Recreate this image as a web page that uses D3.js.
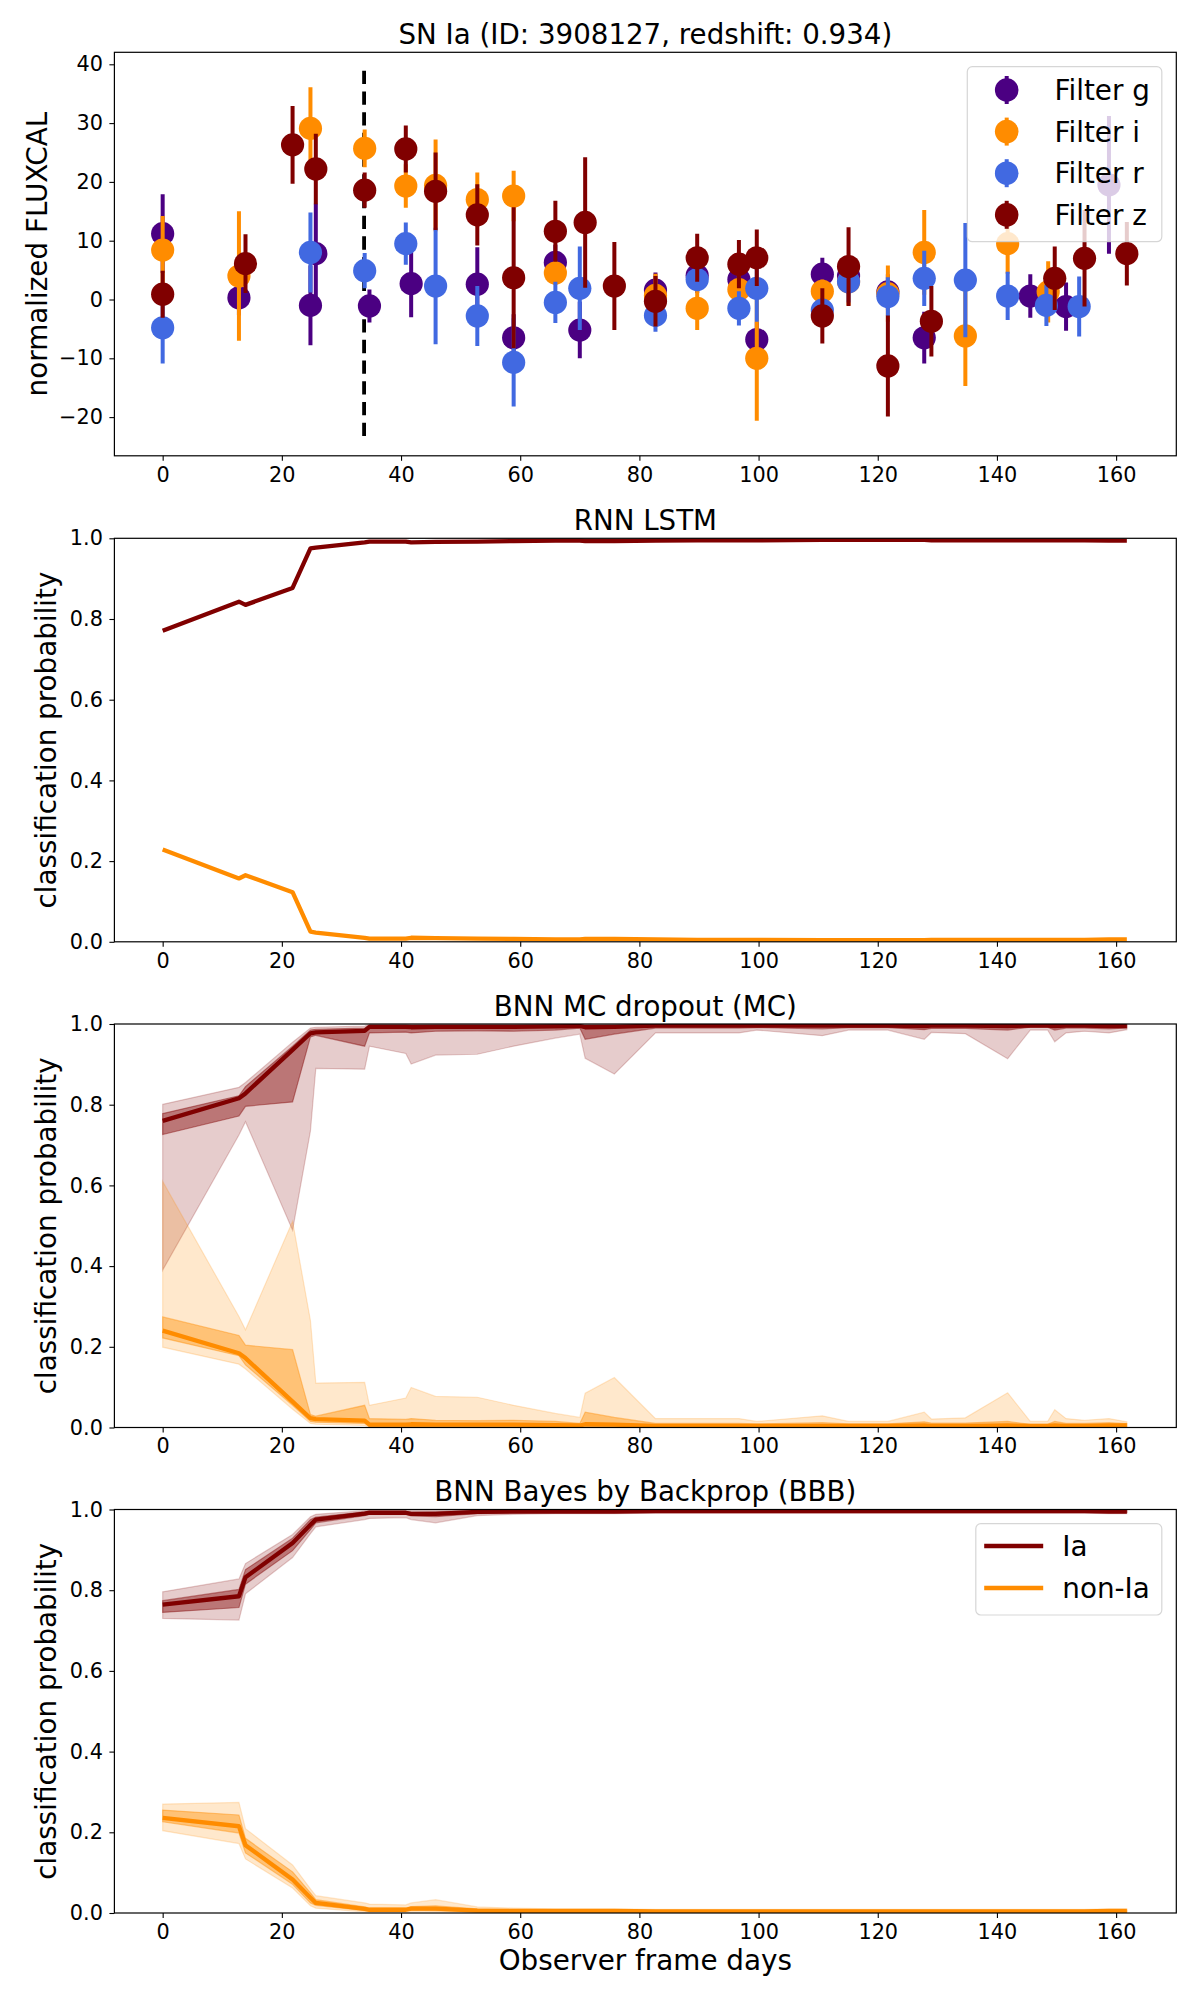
<!DOCTYPE html>
<html>
<head>
<meta charset="utf-8">
<script src="https://cdn.jsdelivr.net/npm/d3@7"></script>
<style>
  html, body { margin: 0; padding: 0; background: #fff; }
  svg { display: block; font-family: "DejaVu Sans", sans-serif; }
</style>
</head>
<body>
<svg id="chart" width="1200" height="2000"></svg>
<script>
// ---------------- DATA ----------------
// Light curve (panel 1): observer-frame days, normalized FLUXCAL, error
const gDays = [0, 12.8, 24.8, 25.7, 34.7, 41.7, 52.8, 58.9, 65.9, 70.0, 82.7, 89.7, 96.7, 99.7, 110.7, 115.1, 121.7, 127.8, 145.6, 151.6, 158.8];
const gFlux = [11.2, 0.3, -1.0, 7.8, -1.1, 2.7, 2.6, -6.5, 6.3, -5.2, 1.6, 4.1, 3.4, -6.8, 4.3, 4.0, 1.3, -6.5, 0.6, -1.2, 19.5];
const gErr  = [6.7, 3.0, 6.8, 8.5, 2.8, 5.7, 6.3, 4.0, 3.0, 4.8, 3.0, 3.0, 3.5, 3.0, 2.8, 3.0, 3.0, 4.4, 3.7, 4.1, 11.7];

const iDays = [0, 12.8, 24.8, 33.9, 40.8, 45.8, 52.8, 58.9, 65.9, 82.7, 89.7, 96.7, 99.7, 110.7, 115.1, 121.7, 127.8, 134.7, 141.8, 148.6];
const iFlux = [8.4, 4.0, 29.1, 25.7, 19.3, 19.4, 17.0, 17.6, 4.5, 0.7, -1.5, 1.7, -10.0, 1.4, 3.0, 1.0, 8.0, -6.2, 9.5, 1.3];
const iErr  = [5.8, 11.0, 7.0, 3.2, 3.7, 7.8, 4.6, 4.3, 2.0, 3.7, 3.7, 3.0, 10.6, 2.0, 4.0, 4.8, 7.2, 8.5, 5.1, 5.2];

const rDays = [0, 24.8, 33.9, 40.8, 45.8, 52.8, 58.9, 65.9, 70.0, 82.7, 89.7, 96.7, 99.7, 110.7, 115.1, 121.7, 127.8, 134.7, 141.8, 148.3, 153.8];
const rFlux = [-4.8, 8.0, 4.9, 9.5, 2.3, -2.8, -10.7, -0.5, 1.9, -2.7, 3.4, -1.5, 1.9, -1.8, 3.0, 0.5, 3.6, 3.3, 0.6, -1.0, -1.2];
const rErr  = [6.1, 6.8, 3.0, 3.6, 9.9, 5.1, 7.5, 3.5, 7.1, 2.8, 2.0, 2.9, 5.7, 2.0, 3.5, 3.3, 4.7, 9.7, 4.1, 3.5, 5.1];

const zDays = [0, 13.9, 21.8, 25.7, 33.9, 40.8, 45.8, 52.8, 58.9, 65.9, 70.9, 75.8, 82.7, 89.7, 96.7, 99.7, 110.7, 115.1, 121.7, 129.0, 149.7, 154.7, 161.8];
const zFlux = [0.9, 6.1, 26.3, 22.2, 18.6, 25.6, 18.4, 14.4, 3.7, 11.6, 13.1, 2.3, -0.3, 7.1, 6.0, 7.1, -2.8, 5.6, -11.3, -3.7, 3.6, 7.0, 7.8];
const zErr  = [4.0, 5.0, 6.6, 6.0, 3.0, 4.0, 6.6, 5.2, 12.0, 5.2, 11.1, 7.5, 4.3, 4.1, 4.1, 4.8, 4.7, 6.7, 8.6, 6.0, 5.4, 8.2, 5.4];

const peakDay = 33.8;
const peakLineRange = [-23.5, 38.9];

// Classification epochs (panels 2-4)
const epochs = [0, 12.8, 13.9, 21.8, 24.8, 25.7, 33.9, 34.7, 40.8, 41.7, 45.8, 52.8, 58.9, 65.9, 70.0, 70.9, 75.8, 82.7, 89.7, 96.7, 99.7, 110.7, 115.1, 121.7, 127.8, 129.0, 134.7, 141.8, 145.6, 148.5, 149.7, 151.6, 153.8, 154.7, 158.8, 161.8];

// RNN LSTM
const lstmIa    = [0.771, 0.843, 0.835, 0.877, 0.975, 0.977, 0.990, 0.992, 0.992, 0.990, 0.991, 0.992, 0.993, 0.994, 0.994, 0.993, 0.993, 0.994, 0.995, 0.995, 0.995, 0.996, 0.996, 0.996, 0.996, 0.995, 0.995, 0.995, 0.995, 0.995, 0.995, 0.995, 0.995, 0.995, 0.994, 0.994];
const lstmNonIa = [0.229, 0.157, 0.165, 0.123, 0.025, 0.023, 0.010, 0.008, 0.008, 0.010, 0.009, 0.008, 0.007, 0.006, 0.006, 0.007, 0.007, 0.006, 0.005, 0.005, 0.005, 0.004, 0.004, 0.004, 0.004, 0.005, 0.005, 0.005, 0.005, 0.005, 0.005, 0.005, 0.005, 0.005, 0.006, 0.006];

// BNN MC dropout
const mcIa        = [0.760, 0.816, 0.828, 0.936, 0.977, 0.979, 0.983, 0.993, 0.993, 0.992, 0.993, 0.993, 0.993, 0.994, 0.995, 0.992, 0.993, 0.996, 0.996, 0.996, 0.996, 0.996, 0.996, 0.996, 0.995, 0.996, 0.996, 0.995, 0.996, 0.996, 0.995, 0.996, 0.996, 0.996, 0.995, 0.995];
const mcIaInLo    = [0.726, 0.772, 0.796, 0.807, 0.968, 0.972, 0.945, 0.978, 0.980, 0.978, 0.982, 0.983, 0.982, 0.985, 0.990, 0.962, 0.975, 0.990, 0.990, 0.990, 0.991, 0.988, 0.991, 0.991, 0.986, 0.989, 0.989, 0.985, 0.992, 0.992, 0.985, 0.990, 0.990, 0.990, 0.988, 0.990];
const mcIaInHi    = [0.778, 0.822, 0.845, 0.945, 0.985, 0.987, 0.990, 0.997, 0.997, 0.997, 0.997, 0.997, 0.997, 0.998, 0.998, 0.997, 0.997, 0.998, 0.998, 0.998, 0.998, 0.998, 0.998, 0.998, 0.998, 0.998, 0.998, 0.998, 0.998, 0.998, 0.998, 0.998, 0.998, 0.998, 0.998, 0.998];
const mcIaOutLo   = [0.390, 0.725, 0.758, 0.489, 0.735, 0.890, 0.888, 0.945, 0.927, 0.901, 0.923, 0.925, 0.945, 0.965, 0.975, 0.915, 0.876, 0.978, 0.978, 0.978, 0.985, 0.971, 0.985, 0.985, 0.962, 0.979, 0.976, 0.914, 0.985, 0.985, 0.956, 0.978, 0.981, 0.982, 0.978, 0.986];
const mcIaOutHi   = [0.801, 0.843, 0.855, 0.955, 0.990, 0.992, 0.995, 0.999, 0.999, 0.999, 0.999, 0.999, 0.999, 0.999, 0.999, 0.999, 0.999, 0.999, 0.999, 0.999, 0.999, 0.999, 0.999, 0.999, 0.999, 0.999, 0.999, 0.999, 0.999, 0.999, 0.999, 0.999, 0.999, 0.999, 0.999, 0.999];
const mcNon       = [0.240, 0.184, 0.172, 0.064, 0.023, 0.021, 0.017, 0.007, 0.007, 0.008, 0.007, 0.007, 0.007, 0.006, 0.005, 0.008, 0.007, 0.004, 0.004, 0.004, 0.004, 0.004, 0.004, 0.004, 0.005, 0.004, 0.004, 0.005, 0.004, 0.004, 0.005, 0.004, 0.004, 0.004, 0.005, 0.005];
const mcNonInLo   = [0.222, 0.178, 0.155, 0.055, 0.015, 0.013, 0.010, 0.003, 0.003, 0.003, 0.003, 0.003, 0.003, 0.002, 0.002, 0.003, 0.003, 0.002, 0.002, 0.002, 0.002, 0.002, 0.002, 0.002, 0.002, 0.002, 0.002, 0.002, 0.002, 0.002, 0.002, 0.002, 0.002, 0.002, 0.002, 0.002];
const mcNonInHi   = [0.274, 0.228, 0.204, 0.193, 0.032, 0.028, 0.055, 0.022, 0.020, 0.022, 0.018, 0.017, 0.018, 0.015, 0.010, 0.038, 0.025, 0.010, 0.010, 0.010, 0.009, 0.012, 0.009, 0.009, 0.014, 0.011, 0.011, 0.015, 0.008, 0.008, 0.015, 0.010, 0.010, 0.010, 0.012, 0.010];
const mcNonOutLo  = [0.199, 0.157, 0.145, 0.045, 0.010, 0.008, 0.005, 0.001, 0.001, 0.001, 0.001, 0.001, 0.001, 0.001, 0.001, 0.001, 0.001, 0.001, 0.001, 0.001, 0.001, 0.001, 0.001, 0.001, 0.001, 0.001, 0.001, 0.001, 0.001, 0.001, 0.001, 0.001, 0.001, 0.001, 0.001, 0.001];
const mcNonOutHi  = [0.610, 0.275, 0.242, 0.511, 0.265, 0.110, 0.112, 0.055, 0.073, 0.099, 0.077, 0.075, 0.055, 0.035, 0.025, 0.085, 0.124, 0.022, 0.022, 0.022, 0.015, 0.029, 0.015, 0.015, 0.038, 0.021, 0.024, 0.086, 0.015, 0.015, 0.044, 0.022, 0.019, 0.018, 0.022, 0.014];

// BNN Bayes by Backprop
const bbbIa       = [0.764, 0.785, 0.832, 0.917, 0.962, 0.975, 0.990, 0.992, 0.992, 0.989, 0.989, 0.994, 0.995, 0.995, 0.995, 0.995, 0.995, 0.996, 0.996, 0.996, 0.996, 0.996, 0.996, 0.996, 0.996, 0.996, 0.996, 0.996, 0.996, 0.996, 0.996, 0.996, 0.996, 0.996, 0.995, 0.995];
const bbbIaInLo   = [0.745, 0.757, 0.815, 0.898, 0.950, 0.967, 0.985, 0.988, 0.988, 0.984, 0.982, 0.990, 0.992, 0.993, 0.993, 0.993, 0.993, 0.994, 0.994, 0.994, 0.994, 0.994, 0.994, 0.994, 0.994, 0.994, 0.994, 0.994, 0.994, 0.994, 0.994, 0.994, 0.994, 0.994, 0.993, 0.993];
const bbbIaInHi   = [0.774, 0.802, 0.851, 0.929, 0.975, 0.981, 0.994, 0.995, 0.995, 0.993, 0.994, 0.997, 0.997, 0.997, 0.997, 0.997, 0.997, 0.998, 0.998, 0.998, 0.998, 0.998, 0.998, 0.998, 0.998, 0.998, 0.998, 0.998, 0.998, 0.998, 0.998, 0.998, 0.998, 0.998, 0.997, 0.997];
const bbbIaOutLo  = [0.730, 0.726, 0.791, 0.881, 0.940, 0.957, 0.975, 0.978, 0.980, 0.975, 0.967, 0.985, 0.988, 0.990, 0.990, 0.990, 0.990, 0.991, 0.991, 0.991, 0.991, 0.991, 0.991, 0.991, 0.991, 0.991, 0.991, 0.991, 0.991, 0.991, 0.991, 0.991, 0.991, 0.991, 0.990, 0.990];
const bbbIaOutHi  = [0.796, 0.828, 0.866, 0.938, 0.982, 0.988, 0.997, 0.998, 0.998, 0.997, 0.997, 0.999, 0.999, 0.999, 0.999, 0.999, 0.999, 0.999, 0.999, 0.999, 0.999, 0.999, 0.999, 0.999, 0.999, 0.999, 0.999, 0.999, 0.999, 0.999, 0.999, 0.999, 0.999, 0.999, 0.999, 0.999];
const bbbNon      = [0.236, 0.215, 0.168, 0.083, 0.038, 0.025, 0.010, 0.008, 0.008, 0.011, 0.011, 0.006, 0.005, 0.005, 0.005, 0.005, 0.005, 0.004, 0.004, 0.004, 0.004, 0.004, 0.004, 0.004, 0.004, 0.004, 0.004, 0.004, 0.004, 0.004, 0.004, 0.004, 0.004, 0.004, 0.005, 0.005];
const bbbNonInLo  = [0.226, 0.198, 0.149, 0.071, 0.025, 0.019, 0.006, 0.005, 0.005, 0.007, 0.006, 0.003, 0.003, 0.003, 0.003, 0.003, 0.003, 0.002, 0.002, 0.002, 0.002, 0.002, 0.002, 0.002, 0.002, 0.002, 0.002, 0.002, 0.002, 0.002, 0.002, 0.002, 0.002, 0.002, 0.003, 0.003];
const bbbNonInHi  = [0.255, 0.243, 0.185, 0.102, 0.050, 0.033, 0.015, 0.012, 0.012, 0.016, 0.018, 0.010, 0.008, 0.007, 0.007, 0.007, 0.007, 0.006, 0.006, 0.006, 0.006, 0.006, 0.006, 0.006, 0.006, 0.006, 0.006, 0.006, 0.006, 0.006, 0.006, 0.006, 0.006, 0.006, 0.007, 0.007];
const bbbNonOutLo = [0.204, 0.172, 0.134, 0.062, 0.018, 0.012, 0.003, 0.002, 0.002, 0.003, 0.003, 0.001, 0.001, 0.001, 0.001, 0.001, 0.001, 0.001, 0.001, 0.001, 0.001, 0.001, 0.001, 0.001, 0.001, 0.001, 0.001, 0.001, 0.001, 0.001, 0.001, 0.001, 0.001, 0.001, 0.001, 0.001];
const bbbNonOutHi = [0.270, 0.274, 0.209, 0.119, 0.060, 0.043, 0.025, 0.022, 0.020, 0.025, 0.033, 0.015, 0.012, 0.010, 0.010, 0.010, 0.010, 0.009, 0.009, 0.009, 0.009, 0.009, 0.009, 0.009, 0.009, 0.009, 0.009, 0.009, 0.009, 0.009, 0.009, 0.009, 0.009, 0.009, 0.010, 0.010];

const dayTicks = [0, 20, 40, 60, 80, 100, 120, 140, 160];
const fluxTicks = [-20, -10, 0, 10, 20, 30, 40];
const probTicks = [0, 0.2, 0.4, 0.6, 0.8, 1.0];
const filterNames = ["Filter g", "Filter i", "Filter r", "Filter z"];
const classNames = ["Ia", "non-Ia"];
const titles = ["SN Ia (ID: 3908127, redshift: 0.934)", "RNN LSTM", "BNN MC dropout (MC)", "BNN Bayes by Backprop (BBB)"];

// ---------------- STYLE / LAYOUT ----------------
const COL = { g: "#4b0082", i: "#ff8c00", r: "#4169e1", z: "#800000", ia: "#800000", non: "#ff8c00" };
const FONT = "DejaVu Sans";
const left = 114.4, right = 1176.3;
const tops = [52.3, 538.3, 1024.0, 1509.5];
const H = 403.5;

const svg = d3.select("#chart");
const x = d3.scaleLinear().domain([-8.1, 170.1]).range([left, right]);

function frame(top, title) {
  const g = svg.append("g");
  g.append("text").attr("x", (left + right) / 2).attr("y", top - 8.3)
    .attr("text-anchor", "middle").attr("font-size", 27.7).attr("font-family", FONT)
    .attr("fill", "#000").text(title);
  return g;
}
function axes(g, y, top, yTicks, yfmt) {
  const xa = g.append("g").attr("transform", `translate(0,${top + H})`)
    .call(d3.axisBottom(x).tickValues(dayTicks).tickSize(5).tickPadding(6).tickFormat(d3.format("d")));
  const ya = g.append("g").attr("transform", `translate(${left},0)`)
    .call(d3.axisLeft(y).tickValues(yTicks).tickSize(5).tickPadding(6.5).tickFormat(yfmt));
  [xa, ya].forEach(a => {
    a.select(".domain").remove();
    a.selectAll("text").attr("font-size", 20.8).attr("font-family", FONT).attr("fill", "#000");
    a.selectAll("line").attr("stroke", "#000").attr("stroke-width", 1.1);
  });
  g.append("rect").attr("x", left).attr("y", top).attr("width", right - left).attr("height", H)
    .attr("fill", "none").attr("stroke", "#000").attr("stroke-width", 1.2);
}
function ylabel(g, xpos, top, txt) {
  g.append("text").attr("transform", `translate(${xpos},${top + H / 2}) rotate(-90)`)
    .attr("text-anchor", "middle").attr("font-size", 27.8).attr("font-family", FONT)
    .attr("fill", "#000").text(txt);
}

// ---------------- PANEL 1 ----------------
(function () {
  const top = tops[0];
  const g = frame(top, titles[0]);
  const y = d3.scaleLinear().domain([-26.58, 42.04]).range([top + H, top]);
  const clipId = "clip0";
  svg.append("clipPath").attr("id", clipId).append("rect")
    .attr("x", left).attr("y", top).attr("width", right - left).attr("height", H);
  const plot = g.append("g").attr("clip-path", `url(#${clipId})`);

  plot.append("line").attr("x1", x(peakDay)).attr("x2", x(peakDay))
    .attr("y1", y(peakLineRange[1])).attr("y2", y(peakLineRange[0]))
    .attr("stroke", "#000").attr("stroke-width", 3.8).attr("stroke-dasharray", "13.3,7.4");

  const series = [
    [gDays, gFlux, gErr, COL.g],
    [iDays, iFlux, iErr, COL.i],
    [rDays, rFlux, rErr, COL.r],
    [zDays, zFlux, zErr, COL.z]
  ];
  series.forEach(([ds, fs, es, c]) => {
    const pts = ds.map((d, k) => ({ d, f: fs[k], e: es[k] }));
    const sg = plot.append("g");
    sg.selectAll("line").data(pts).join("line")
      .attr("x1", p => x(p.d)).attr("x2", p => x(p.d))
      .attr("y1", p => y(p.f - p.e)).attr("y2", p => y(p.f + p.e))
      .attr("stroke", c).attr("stroke-width", 4);
    sg.selectAll("circle").data(pts).join("circle")
      .attr("cx", p => x(p.d)).attr("cy", p => y(p.f)).attr("r", 11.6).attr("fill", c);
  });

  axes(g, y, top, fluxTicks, d3.format("d"));
  ylabel(g, 46.5, top, "normalized FLUXCAL");

  // legend
  const lg = g.append("g");
  lg.append("rect").attr("x", 967.3).attr("y", 66.7).attr("width", 194.5).attr("height", 175)
    .attr("rx", 5).attr("fill", "#fff").attr("fill-opacity", 0.8)
    .attr("stroke", "#cccccc").attr("stroke-opacity", 0.8).attr("stroke-width", 1.2);
  const cols = [COL.g, COL.i, COL.r, COL.z];
  filterNames.forEach((n, k) => {
    const cy = 90 + k * 41.6;
    lg.append("line").attr("x1", 1006.7).attr("x2", 1006.7).attr("y1", cy - 14).attr("y2", cy + 14)
      .attr("stroke", cols[k]).attr("stroke-width", 4);
    lg.append("circle").attr("cx", 1006.7).attr("cy", cy).attr("r", 11.8).attr("fill", cols[k]);
    lg.append("text").attr("x", 1054.5).attr("y", cy + 10.1).attr("font-size", 27.8)
      .attr("font-family", FONT).attr("fill", "#000").text(n);
  });
})();

// ---------------- PROBABILITY PANELS ----------------
function probPanel(idx, spec) {
  const top = tops[idx];
  const g = frame(top, titles[idx]);
  const y = d3.scaleLinear().domain([0, 1]).range([top + H, top]);
  const clipId = "clip" + idx;
  svg.append("clipPath").attr("id", clipId).append("rect")
    .attr("x", left).attr("y", top).attr("width", right - left).attr("height", H);
  const plot = g.append("g").attr("clip-path", `url(#${clipId})`);
  const area = (lo, hi) => d3.area().x((d, k) => x(epochs[k])).y0((d, k) => y(lo[k])).y1((d, k) => y(hi[k]))(epochs);
  const line = vals => d3.line().x((d, k) => x(epochs[k])).y((d, k) => y(vals[k]))(epochs);

  spec.forEach(s => {
    if (s.outer) plot.append("path").attr("d", area(s.outer[0], s.outer[1]))
      .attr("fill", s.color).attr("fill-opacity", 0.2).attr("stroke", s.color).attr("stroke-opacity", 0.2).attr("stroke-width", 1.2);
    if (s.inner) plot.append("path").attr("d", area(s.inner[0], s.inner[1]))
      .attr("fill", s.color).attr("fill-opacity", 0.42).attr("stroke", s.color).attr("stroke-opacity", 0.42).attr("stroke-width", 1.2);
  });
  spec.forEach(s => {
    plot.append("path").attr("d", line(s.mean)).attr("fill", "none")
      .attr("stroke", s.color).attr("stroke-width", 4.3).attr("stroke-linejoin", "round");
  });
  axes(g, y, top, probTicks, d3.format(".1f"));
  ylabel(g, 56, top, "classification probability");
  return g;
}

probPanel(1, [
  { color: COL.ia, mean: lstmIa },
  { color: COL.non, mean: lstmNonIa }
]);
probPanel(2, [
  { color: COL.ia, mean: mcIa, inner: [mcIaInLo, mcIaInHi], outer: [mcIaOutLo, mcIaOutHi] },
  { color: COL.non, mean: mcNon, inner: [mcNonInLo, mcNonInHi], outer: [mcNonOutLo, mcNonOutHi] }
]);
const g4 = probPanel(3, [
  { color: COL.ia, mean: bbbIa, inner: [bbbIaInLo, bbbIaInHi], outer: [bbbIaOutLo, bbbIaOutHi] },
  { color: COL.non, mean: bbbNon, inner: [bbbNonInLo, bbbNonInHi], outer: [bbbNonOutLo, bbbNonOutHi] }
]);

// x label
svg.append("text").attr("x", (left + right) / 2).attr("y", 1970).attr("text-anchor", "middle")
  .attr("font-size", 27.8).attr("font-family", FONT).attr("fill", "#000").text("Observer frame days");

// legend panel 4
(function () {
  const lg = g4.append("g");
  lg.append("rect").attr("x", 975.8).attr("y", 1523.7).attr("width", 186).attr("height", 91.3)
    .attr("rx", 5).attr("fill", "#fff").attr("fill-opacity", 0.8)
    .attr("stroke", "#cccccc").attr("stroke-opacity", 0.8).attr("stroke-width", 1.2);
  const cols = [COL.ia, COL.non];
  classNames.forEach((n, k) => {
    const cy = 1546 + k * 42;
    lg.append("line").attr("x1", 984.2).attr("x2", 1043.2).attr("y1", cy).attr("y2", cy)
      .attr("stroke", cols[k]).attr("stroke-width", 4.3);
    lg.append("text").attr("x", 1062.3).attr("y", cy + 10).attr("font-size", 27.8)
      .attr("font-family", FONT).attr("fill", "#000").text(n);
  });
})();
</script>
</body>
</html>
